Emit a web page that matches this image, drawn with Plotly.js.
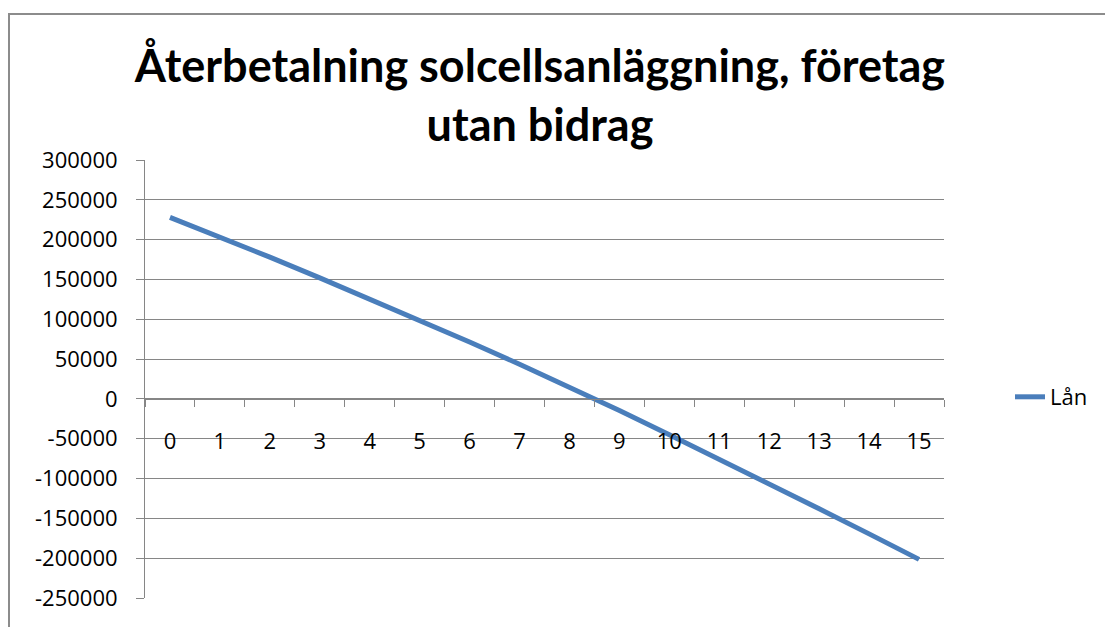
<!DOCTYPE html>
<html>
<head>
<meta charset="utf-8">
<script src="https://cdn.plot.ly/plotly-3.0.1.min.js"></script>
<style>
html,body{margin:0;padding:0;background:#fff;}
#chart{width:1105px;height:627px;}
</style>
</head>
<body>
<div id="chart"></div>
<script>
// Data
const years = ["0","1","2","3","4","5","6","7","8","9","10","11","12","13","14","15"];
const lan = [228000, 203500, 178000, 152000, 125500, 98500, 71500, 43500, 15000, -14500, -45000, -75500, -106500, -138000, -169500, -201500];
const seriesName = "Lån";
const yTickVals = [300000, 250000, 200000, 150000, 100000, 50000, 0, -50000, -100000, -150000, -200000, -250000];
const yTickText = ["300000","250000","200000","150000","100000","50000","0","-50000","-100000","-150000","-200000","-250000"];
const titleText = "Återbetalning solcellsanläggning, företag<br>utan bidrag";

const grid = "#868686";
const font = "'Open Sans', 'Noto Sans', sans-serif";

const trace = {
  x: years, y: lan, type: "scatter", mode: "lines", name: seriesName,
  line: {color: "#4A7EBB", width: 5},
  showlegend: true
};

const plotL = 145, plotR = 944, plotT = 160, plotB = 598;
const W = 1105, H = 627;
const zeroFrac = (0 - (-250000)) / (300000 - (-250000));

const layout = {
  width: W, height: H,
  margin: {l: plotL, r: W - plotR, t: plotT, b: H - plotB, pad: 0},
  paper_bgcolor: "#fff", plot_bgcolor: "#fff",
  font: {family: font, size: 22, color: "#000"},
  title: {
    text: titleText,
    font: {family: "Lato, 'Open Sans', sans-serif", size: 45, color: "#000", weight: 700},
    x: 540 / W, xanchor: "center", xref: "container",
    y: 1 - 82 / H, yanchor: "top", yref: "container"
  },
  xaxis: {
    type: "category",
    anchor: "free", position: zeroFrac,
    range: [-0.5, 15.5],
    showgrid: false, zeroline: false,
    showline: true, linecolor: grid, linewidth: 1,
    ticks: "outside", ticklen: 7, tickcolor: grid, tickwidth: 1,
    tickson: "boundaries",
    ticklabelstandoff: 23,
    tickfont: {family: font, size: 22, color: "#000"},
    fixedrange: true
  },
  yaxis: {
    range: [-250000, 300000],
    tickmode: "array", tickvals: yTickVals, ticktext: yTickText,
    showgrid: true, gridcolor: grid, gridwidth: 1,
    zeroline: true, zerolinecolor: grid, zerolinewidth: 1,
    showline: true, linecolor: grid, linewidth: 1,
    ticks: "outside", ticklen: 8, tickcolor: grid, tickwidth: 1,
    ticklabelstandoff: 14,
    tickfont: {family: font, size: 22, color: "#000"},
    fixedrange: true
  },
  legend: {
    x: (1010 - plotL) / (plotR - plotL), xanchor: "left",
    y: ((plotB - 397) / (plotB - plotT)), yanchor: "middle",
    font: {family: font, size: 22, color: "#000"},
    bgcolor: "rgba(0,0,0,0)", borderwidth: 0,
    itemwidth: 30
  },
  shapes: [{
    type: "rect", xref: "paper", yref: "paper",
    x0: (9 - plotL) / (plotR - plotL), x1: (1130 - plotL) / (plotR - plotL),
    y0: (plotB - 650) / (plotB - plotT), y1: (plotB - 14) / (plotB - plotT),
    line: {color: "#8c8c8c", width: 2}, fillcolor: "rgba(0,0,0,0)", layer: "below"
  }]
};

Plotly.newPlot("chart", [trace], layout, {displayModeBar: false, staticPlot: true});
</script>
</body>
</html>
